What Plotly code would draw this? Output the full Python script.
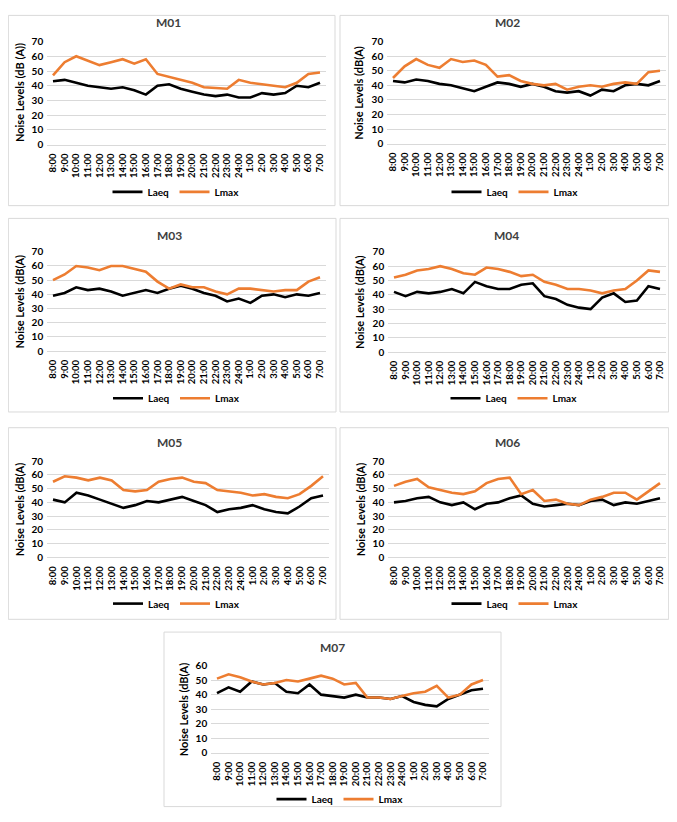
import plotly.graph_objects as go

HOURS = ["8:00", "9:00", "10:00", "11:00", "12:00", "13:00", "14:00", "15:00",
         "16:00", "17:00", "18:00", "19:00", "20:00", "21:00", "22:00", "23:00",
         "24:00", "1:00", "2:00", "3:00", "4:00", "5:00", "6:00", "7:00"]

STATIONS = ["M01", "M02", "M03", "M04", "M05", "M06", "M07"]

m01_laeq = [43, 44, 42, 40, 39, 38, 39, 37, 34, 40, 41, 38, 36, 34, 33, 34, 32, 32, 35, 34, 35, 40, 39, 42]
m01_lmax = [47, 56, 60, 57, 54, 56, 58, 55, 58, 48, 46, 44, 42, 39, 38.5, 38, 44, 42, 41, 40, 39, 42, 48, 49]

m02_laeq = [43, 42, 44, 43, 41, 40, 38, 36, 39, 42, 41, 39, 41, 39, 36, 35, 36, 33, 37, 36, 40, 41, 40, 43]
m02_lmax = [45, 53, 58, 54, 52, 58, 56, 57, 54, 46, 47, 43, 41, 40, 41, 37, 39, 40, 39, 41, 42, 41, 49, 50]

m03_laeq = [39, 41, 45, 43, 44, 42, 39, 41, 43, 41, 44, 46, 44, 41, 39, 35, 37, 34, 39, 40, 38, 40, 39, 41]
m03_lmax = [50, 54, 60, 59, 57, 60, 60, 58, 56, 49, 44, 47, 45, 45, 42, 40, 44, 44, 43, 42, 43, 43, 49, 52]

m04_laeq = [42, 39, 42, 41, 42, 44, 41, 49, 46, 44, 44, 47, 48, 39, 37, 33, 31, 30, 38, 41, 35, 36, 46, 44]
m04_lmax = [52, 54, 57, 58, 60, 58, 55, 54, 59, 58, 56, 53, 54, 49, 47, 44, 44, 43, 41, 43, 44, 50, 57, 56]

m05_laeq = [42, 40, 47, 45, 42, 39, 36, 38, 41, 40, 42, 44, 41, 38, 33, 35, 36, 38, 35, 33, 32, 37, 43, 45]
m05_lmax = [55, 59, 58, 56, 58, 56, 49, 48, 49, 55, 57, 58, 55, 54, 49, 48, 47, 45, 46, 44, 43, 46, 52, 59]

m06_laeq = [40, 41, 43, 44, 40, 38, 40, 35, 39, 40, 43, 45, 39, 37, 38, 39, 38, 41, 42, 38, 40, 39, 41, 43]
m06_lmax = [52, 55, 57, 51, 49, 47, 46, 48, 54, 57, 58, 46, 49, 41, 42, 39, 38, 42, 44, 47, 47, 42, 48, 54]

m07_laeq = [41, 45, 42, 49, 47, 48, 42, 41, 47, 40, 39, 38, 40, 38, 38, 37, 39, 35, 33, 32, 37, 40, 43, 44]
m07_lmax = [51, 54, 52, 49, 47, 48, 50, 49, 51, 53, 51, 47, 48, 38, 38, 37, 39, 41, 42, 46, 38, 40, 47, 50]

LAEQ = [m01_laeq, m02_laeq, m03_laeq, m04_laeq, m05_laeq, m06_laeq, m07_laeq]
LMAX = [m01_lmax, m02_lmax, m03_lmax, m04_lmax, m05_lmax, m06_lmax, m07_lmax]
Y_TITLES = ["Noise Levels (dB (A))"] + ["Noise Levels (dB(A)"] * 6
Y_MAX = [70, 70, 70, 70, 70, 70, 60]

# page body keeps its 8px margin, so the figure is made smaller and shifted
PAGE_W, PAGE_H, OFF = 677, 822, 8
W, H = PAGE_W - 2 * OFF, PAGE_H - 2 * OFF
FONT = "Lato"
GRID = "#d9d9d9"

# pixel geometry on the page: first/last category x, plot top/bottom y,
# panel box, title y, legend y, y-title x
PANELS = [
    dict(x0=53, x1=320, top=35, bot=140, box=(2, 2, 335, 202), ty=16, ly=188, yt=19),
    dict(x0=393, x1=660, top=35, bot=139, box=(340, 2, 675, 202), ty=16, ly=188, yt=359),
    dict(x0=53, x1=320, top=249, bot=350, box=(2, 215, 336, 412), ty=232, ly=398, yt=19),
    dict(x0=394, x1=660, top=249, bot=351, box=(340, 215, 673, 412), ty=232, ly=398, yt=360),
    dict(x0=53, x1=323, top=462, bot=560, box=(2, 428, 336, 623), ty=443, ly=607, yt=19),
    dict(x0=394, x1=660, top=462, bot=560, box=(340, 428, 675, 623), ty=443, ly=607, yt=360),
    dict(x0=217, x1=483, top=670, bot=759, box=(164, 636, 501, 821), ty=652, ly=806, yt=183),
]


def px(x):
    return min(max((x - OFF) / W, 0.0005), 0.9995)


def py(y):
    return min(max(1 - (y - OFF) / H, 0.0005), 0.9995)


fig = go.Figure()
layout = dict(
    width=W, height=H,
    margin=dict(l=0, r=0, t=0, b=0),
    paper_bgcolor="white", plot_bgcolor="white",
    font=dict(family=FONT, color="#000000"),
    shapes=[], annotations=[],
)

for i, (name, p) in enumerate(zip(STATIONS, PANELS)):
    n = i + 1
    sfx = "" if n == 1 else str(n)
    leg = "legend" + sfx
    sp = (p["x1"] - p["x0"]) / (len(HOURS) - 1)

    for label, ys, color in [("Laeq", LAEQ[i], "#000000"), ("Lmax", LMAX[i], "#ed7d31")]:
        fig.add_trace(go.Scatter(
            x=HOURS, y=ys, name=label, mode="lines",
            line=dict(color=color, width=2.6),
            xaxis="x" + sfx, yaxis="y" + sfx, legend=leg,
            hovertemplate=f"<b>{name} {label}</b><br>%{{x}}: %{{y}} dB(A)<extra></extra>",
        ))

    layout["xaxis" + sfx] = dict(
        domain=[px(p["x0"] - sp / 2), px(p["x1"] + sp / 2)],
        anchor="y" + sfx, type="category", range=[-0.5, len(HOURS) - 0.5],
        tickangle=-90, showgrid=False, showline=True, linecolor=GRID, linewidth=1,
        ticks="", ticklabelstandoff=4,
        tickfont=dict(family=FONT, size=9.5, weight="bold", color="#000000"),
    )
    layout["yaxis" + sfx] = dict(
        domain=[py(p["bot"]), py(p["top"])],
        anchor="x" + sfx, range=[0, Y_MAX[i]], dtick=10,
        showgrid=True, gridcolor=GRID, gridwidth=1, zeroline=False,
        ticks="", ticklabelstandoff=3,
        tickfont=dict(family=FONT, size=10, weight="bold", color="#000000"),
    )

    # y-axis title placed as its own rotated label
    layout["annotations"].append(dict(
        text=Y_TITLES[i], xref="paper", yref="paper",
        x=px(p["yt"]), y=py((p["top"] + p["bot"]) / 2),
        textangle=-90, showarrow=False, xanchor="center", yanchor="middle",
        font=dict(family=FONT, size=11, weight="bold", color="#000000"),
    ))

    bx0, by0, bx1, by1 = p["box"]
    layout["shapes"].append(dict(
        type="rect", xref="paper", yref="paper",
        x0=px(bx0), x1=px(bx1), y0=py(by1), y1=py(by0),
        line=dict(color=GRID, width=1), layer="below",
    ))
    layout["annotations"].append(dict(
        text=name, xref="paper", yref="paper", x=px((bx0 + bx1) / 2), y=py(p["ty"]),
        showarrow=False, xanchor="center", yanchor="middle",
        font=dict(family=FONT, size=12, weight="bold", color="#404040"),
    ))
    layout[leg] = dict(
        orientation="h", xref="paper", yref="paper",
        x=px((bx0 + bx1) / 2 + 6), y=py(p["ly"]), xanchor="center", yanchor="middle",
        bgcolor="rgba(0,0,0,0)", itemwidth=30, entrywidth=22,
        font=dict(family=FONT, size=10, weight="bold", color="#000000"),
    )

fig.update_layout(**layout)
fig.write_html("out.html")
